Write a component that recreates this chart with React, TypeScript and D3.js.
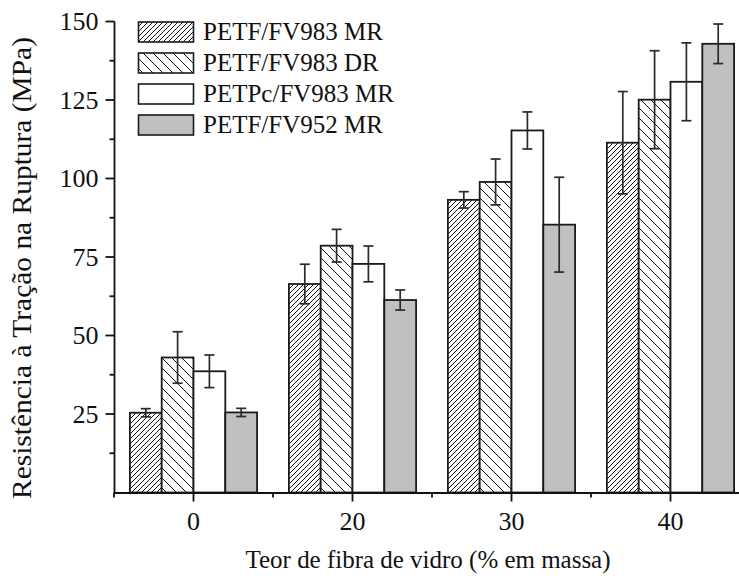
import React from "react";
import * as d3 from "d3";

const categories = ["0", "20", "30", "40"];
const seriesNames = ["PETF/FV983 MR", "PETF/FV983 DR", "PETPc/FV983 MR", "PETF/FV952 MR"];
const s1 = [25.4, 66.4, 93.2, 111.4];
const s1err = [1.3, 6.3, 2.6, 16.3];
const s2 = [43.0, 78.6, 98.9, 125.1];
const s2err = [8.2, 5.2, 7.3, 15.6];
const s3 = [38.6, 72.8, 115.3, 130.8];
const s3err = [5.2, 5.7, 5.9, 12.4];
const s4 = [25.5, 61.3, 85.3, 142.9];
const s4err = [1.3, 3.2, 15.1, 6.3];
const yMajorTicks = [25, 50, 75, 100, 125, 150];
const yMinorTicks = [12.5, 37.5, 62.5, 87.5, 112.5, 137.5];

const values = [s1, s2, s3, s4];
const errors = [s1err, s2err, s3err, s4err];
const fills = ["url(#hatchA)", "url(#hatchB)", "#ffffff", "#c0c0c0"];

const W = 739;
const H = 580;
const FONT = '"Liberation Serif", "Times New Roman", Times, serif';

export default function App() {
  const x = d3.scaleBand<string>().domain(categories).range([114, 750]).paddingInner(0).paddingOuter(0);
  const inner = d3
    .scaleBand<number>()
    .domain([0, 1, 2, 3])
    .range([x.bandwidth() * 0.1, x.bandwidth() * 0.9]);
  const y = d3.scaleLinear().domain([0, 150]).range([492.5, 21.5]);
  const axisY = y(0);
  const axisX = 114.5;

  return (
    <svg
      width={W}
      height={H}
      style={{ position: "absolute", left: 0, top: 0, background: "#fff", fontFamily: FONT }}
    >
      <defs>
        <pattern id="hatchA" patternUnits="userSpaceOnUse" width={5} height={5}>
          <rect width={5} height={5} fill="#fff" />
          <path d="M-1,1 l2,-2 M0,5 l5,-5 M4,6 l2,-2" stroke="#111" strokeWidth={1} />
        </pattern>
        <pattern id="hatchB" patternUnits="userSpaceOnUse" width={10} height={10}>
          <rect width={10} height={10} fill="#fff" />
          <path d="M-1,9 l2,2 M0,0 l10,10 M9,-1 l2,2" stroke="#111" strokeWidth={1} />
        </pattern>
      </defs>

      {/* bars */}
      {categories.map((c, ci) => (
        <g key={c} transform={`translate(${x(c)},0)`}>
          {values.map((vals, si) => (
            <rect
              key={si}
              x={inner(si)}
              y={y(vals[ci])}
              width={inner.bandwidth()}
              height={axisY - y(vals[ci])}
              fill={fills[si]}
              stroke="#1a1a1a"
              strokeWidth={1.8}
            />
          ))}
          {values.map((vals, si) => {
            const cx = (inner(si) as number) + inner.bandwidth() / 2;
            const v = vals[ci];
            const e = errors[si][ci];
            return (
              <g key={"e" + si} stroke="#2a2a2a" strokeWidth={1.7}>
                <line x1={cx} x2={cx} y1={y(v + e)} y2={y(v - e)} />
                <line x1={cx - 5} x2={cx + 5} y1={y(v + e)} y2={y(v + e)} />
                <line x1={cx - 5} x2={cx + 5} y1={y(v - e)} y2={y(v - e)} />
              </g>
            );
          })}
        </g>
      ))}

      {/* y axis */}
      <line x1={axisX} x2={axisX} y1={y(150)} y2={axisY + 1} stroke="#111" strokeWidth={1.8} />
      {yMajorTicks.map((t) => (
        <g key={t}>
          <line x1={axisX - 9} x2={axisX} y1={y(t)} y2={y(t)} stroke="#111" strokeWidth={1.8} />
          <text x={axisX - 16} y={y(t)} dy="0.34em" textAnchor="end" fontSize={26} fill="#111">
            {t}
          </text>
        </g>
      ))}
      {yMinorTicks.map((t) => (
        <line key={t} x1={axisX - 5} x2={axisX} y1={y(t)} y2={y(t)} stroke="#111" strokeWidth={1.8} />
      ))}

      {/* x axis */}
      <line x1={axisX} x2={W + 20} y1={axisY + 0.5} y2={axisY + 0.5} stroke="#111" strokeWidth={1.8} />
      {categories.map((c) => {
        const cx = (x(c) as number) + x.bandwidth() / 2;
        return (
          <g key={c}>
            <line x1={cx} x2={cx} y1={axisY} y2={axisY + 9} stroke="#111" strokeWidth={1.8} />
            <text x={cx} y={axisY + 37} textAnchor="middle" fontSize={26} fill="#111">
              {c}
            </text>
          </g>
        );
      })}
      {categories.map((c) => (
        <line
          key={"m" + c}
          x1={x(c) as number}
          x2={x(c) as number}
          y1={axisY}
          y2={axisY + 5}
          stroke="#111"
          strokeWidth={1.8}
        />
      ))}

      {/* axis titles */}
      <text
        x={428}
        y={568}
        textAnchor="middle"
        fontSize={25}
        fill="#111"
        textLength={365}
        lengthAdjust="spacingAndGlyphs"
      >
        Teor de fibra de vidro (% em massa)
      </text>
      <text
        transform={`translate(31,268) rotate(-90)`}
        textAnchor="middle"
        fontSize={27}
        fill="#111"
        textLength={462}
        lengthAdjust="spacingAndGlyphs"
      >
        Resistência à Tração na Ruptura (MPa)
      </text>

      {/* legend */}
      {seriesNames.map((n, i) => {
        const top = 22 + i * 31;
        return (
          <g key={n}>
            <rect x={138.5} y={top} width={55} height={20} fill={fills[i]} stroke="#1a1a1a" strokeWidth={1.6} />
            <text x={203} y={top + 18} fontSize={25} fill="#111">
              {n}
            </text>
          </g>
        );
      })}
    </svg>
  );
}
